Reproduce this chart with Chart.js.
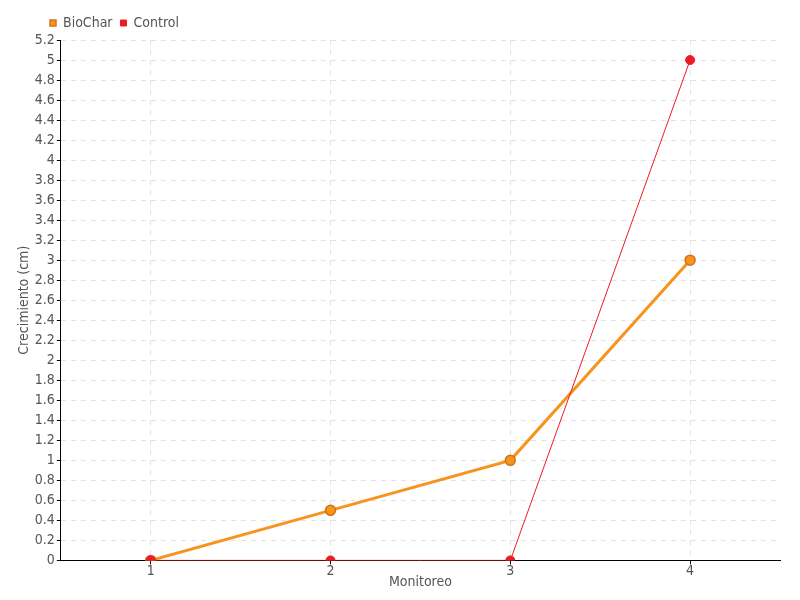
<!DOCTYPE html>
<html>
<head>
<meta charset="utf-8">
<script src="https://cdn.jsdelivr.net/npm/chart.js@4"></script>
<style>
  body { margin: 0; background: #fff; }
  #chart { display: block; }
</style>
</head>
<body>
<canvas id="chart" width="800" height="600"></canvas>
<script>
const categories = ['1', '2', '3', '4'];
const biocharValues = [0, 0.5, 1, 3];
const controlValues = [0, 0, 0, 5];
const yMin = 0;
const yMax = 5.2;
const yStep = 0.2;

const fontFamily = '"DejaVu Sans Condensed", "DejaVu Sans", sans-serif';
const textColor = '#555';
const gridColor = '#e3e3e3';

// nudge the legend so it starts near the y axis like the original
const legendShift = {
    id: 'legendShift',
    afterLayout(chart) {
        chart.legend.left += 26;
    }
};

const ctx = document.getElementById('chart');

new Chart(ctx, {
    type: 'line',
    data: {
        labels: categories,
        datasets: [
            {
                label: 'BioChar',
                data: biocharValues,
                borderColor: '#f7941d',
                backgroundColor: '#f7941d',
                borderWidth: 3,
                pointRadius: 5,
                pointBackgroundColor: '#f7941d',
                pointBorderColor: '#d2731c',
                pointBorderWidth: 1.5,
                tension: 0,
                order: 1
            },
            {
                label: 'Control',
                data: controlValues,
                borderColor: '#ed1c24',
                backgroundColor: '#ed1c24',
                borderWidth: 1,
                pointRadius: 4.5,
                pointBackgroundColor: '#ed1c24',
                pointBorderColor: '#ed1c24',
                tension: 0,
                order: 0
            }
        ]
    },
    options: {
        responsive: false,
        animation: false,
        layout: { padding: { left: 16, right: 20, top: 8, bottom: 9 } },
        plugins: {
            legend: {
                position: 'top',
                align: 'start',
                labels: {
                    usePointStyle: true,
                    pointStyle: 'rect',
                    boxWidth: 6,
                    boxHeight: 6,
                    padding: 8,
                    color: textColor,
                    font: { family: fontFamily, size: 14 },
                    sort: (a, b) => a.datasetIndex - b.datasetIndex
                }
            },
            tooltip: { enabled: false }
        },
        scales: {
            x: {
                offset: true,
                title: {
                    display: true,
                    text: 'Monitoreo',
                    color: textColor,
                    padding: { top: -5, bottom: 0 },
                    font: { family: fontFamily, size: 14 }
                },
                grid: {
                    offset: false,
                    color: gridColor,
                    tickColor: '#000',
                    tickBorderDash: [],
                    tickLength: 4
                },
                border: { color: '#000', width: 1, dash: [5, 5] },
                ticks: {
                    color: textColor,
                    padding: -1,
                    font: { family: fontFamily, size: 14 }
                }
            },
            y: {
                min: yMin,
                max: yMax,
                title: {
                    display: true,
                    text: 'Crecimiento (cm)',
                    color: textColor,
                    padding: { top: 0, bottom: 0 },
                    font: { family: fontFamily, size: 14 }
                },
                grid: {
                    color: gridColor,
                    tickColor: '#000',
                    tickBorderDash: [],
                    tickLength: 4
                },
                border: { color: '#000', width: 1, dash: [5, 5] },
                ticks: {
                    stepSize: yStep,
                    color: textColor,
                    padding: 2,
                    font: { family: fontFamily, size: 14 },
                    callback: (value) => String(parseFloat(value.toFixed(1)))
                }
            }
        }
    },
    plugins: [legendShift]
});
</script>
</body>
</html>
